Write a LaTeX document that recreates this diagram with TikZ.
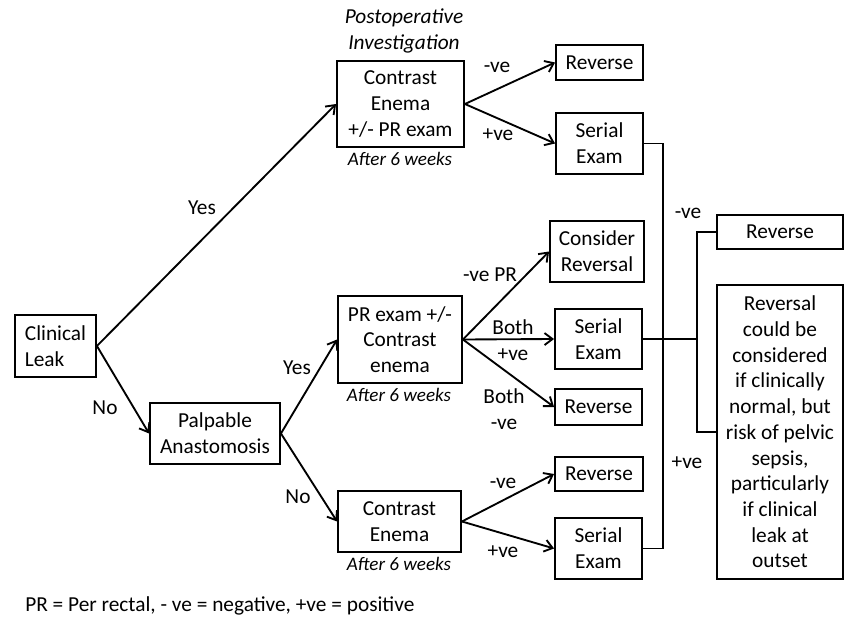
\documentclass[tikz,border=0pt]{standalone}
\usepackage{fontspec}
\setmainfont{Carlito}
\usetikzlibrary{arrows.meta}

\begin{document}
\begin{tikzpicture}[
    x=0.75pt, y=-0.75pt,
    >={Straight Barb[length=6pt,width=9pt]},
    sz/.style 2 args={minimum width=#1*0.75pt, minimum height=#2*0.75pt},
    box/.style={draw, line width=1.4pt, align=center, inner sep=0pt,
                font=\fontsize{16}{19.3}\selectfont},
    lbl/.style={font=\fontsize{16}{19.3}\selectfont, align=center, inner sep=0pt},
    sub/.style={font=\fontsize{14.3}{18}\selectfont\itshape, align=center, inner sep=0pt},
    arr/.style={->, line width=1.4pt},
    bus/.style={line width=1.4pt}]

    \useasboundingbox (0,0) rectangle (847,617);

    % first column
    \node[box, sz={81}{62}, align=left] (leak) at (55.5,346) {Clinical\\Leak};
    \node[box, sz={130}{61}] (palp) at (215,433.5) {Palpable\\Anastomosis};

    % investigations
    \node[sub, font=\fontsize{16}{19.3}\selectfont\itshape] (post) at (404,31) {Postoperative\\Investigation};
    \node[box, sz={127}{86}] (ce1) at (400.5,104) {Contrast\\Enema\\+/- PR exam};
    \node[box, sz={124}{87}] (pr) at (400,339.5) {PR exam +/-\\Contrast\\enema};
    \node[box, sz={123}{61}] (ce2) at (399.5,521.5) {Contrast\\Enema};
    \node[sub] (wk1) at (400,159) {After 6 weeks};
    \node[sub] (wk2) at (399,395) {After 6 weeks};
    \node[sub] (wk3) at (399,564) {After 6 weeks};

    % outcomes
    \node[box, sz={87}{35}] (rev1) at (599.5,62.5) {Reverse};
    \node[box, sz={87}{61}] (ser1) at (599.5,143.5) {Serial\\Exam};
    \node[box, sz={94}{61}] (cons) at (597,251.5) {Consider\\Reversal};
    \node[box, sz={87}{60}] (ser2) at (598.5,339) {Serial\\Exam};
    \node[box, sz={87}{36}] (rev2) at (598.5,407) {Reverse};
    \node[box, sz={88}{34}] (rev3) at (599,474) {Reverse};
    \node[box, sz={87}{61}] (ser3) at (598.5,548.5) {Serial\\Exam};

    % after serial exam
    \node[box, sz={126}{34}] (rev4) at (780,232) {Reverse};
    \node[box, sz={126}{294}] (risk) at (780,432) {Reversal\\could be\\considered\\if clinically\\normal, but\\risk of pelvic\\sepsis,\\particularly\\if clinical\\leak at\\outset};

    \coordinate (busa) at (663,0);
    \coordinate (busb) at (697,0);

    % arrows
    \draw[arr] (leak.east) -- (ce1.west);
    \draw[arr] (leak.east) -- (palp.west);
    \draw[arr] (palp.east) -- (pr.west);
    \draw[arr] (palp.east) -- (ce2.west);
    \draw[arr] (ce1.east) -- (rev1.west);
    \draw[arr] (ce1.east) -- (ser1.west);
    \draw[arr] (pr.east) -- (cons.west);
    \draw[arr] (pr.east) -- (ser2.west);
    \draw[arr] (pr.east) -- (rev2.west);
    \draw[arr] (ce2.east) -- (rev3.west);
    \draw[arr] (ce2.east) -- (ser3.west);

    % serial exam lines
    \draw[bus] (ser1.east) -- (ser1.east -| busa) -- (ser3.east -| busa) -- (ser3.east);
    \draw[bus] (ser2.east) -- (ser2.east -| busb);
    \draw[bus] (rev4.west) -- (rev4.west -| busb) -- (risk.west -| busb) -- (risk.west);

    % labels
    \node[lbl] (l1) at (202,208) {Yes};
    \node[lbl] (l2) at (105,408) {No};
    \node[lbl] (l3) at (297,368) {Yes};
    \node[lbl] (l4) at (298,497) {No};
    \node[lbl] (l5) at (497,67) {-ve};
    \node[lbl] (l6) at (498,135) {+ve};
    \node[lbl] (l7) at (490,275) {-ve PR};
    \node[lbl] (l8) at (513,340) {Both\\+ve};
    \node[lbl] (l9) at (504,409) {Both\\-ve};
    \node[lbl] (l10) at (503,483) {-ve};
    \node[lbl] (l11) at (503,552) {+ve};
    \node[lbl] (l12) at (688,213) {-ve};
    \node[lbl] (l13) at (687,463) {+ve};

    \node[lbl, anchor=west] (foot) at (25,606) {PR = Per rectal, - ve = negative, +ve = positive};

\end{tikzpicture}
\end{document}
